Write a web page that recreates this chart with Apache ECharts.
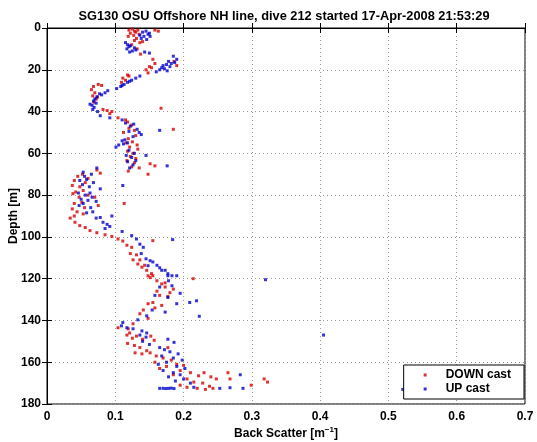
<!DOCTYPE html>
<html><head><meta charset="utf-8">
<script src="https://cdn.jsdelivr.net/npm/echarts@6/dist/echarts.min.js"></script>
<style>html,body{margin:0;padding:0;background:#fff}#c{width:537px;height:442px}</style>
</head><body><div id="c"></div>
<script>
const titleText = 'SG130 OSU Offshore NH line, dive 212 started 17-Apr-2008 21:53:29';
const xTicks = [0, 0.1, 0.2, 0.3, 0.4, 0.5, 0.6, 0.7];
const yTicks = [0, 20, 40, 60, 80, 100, 120, 140, 160, 180];
const seriesNames = ['DOWN cast', 'UP cast'];
// [backscatter, depth]
const downCast = [
[0.120,1],[0.125,0.5],[0.128,1.5],[0.122,2.5],[0.130,2],[0.133,1],[0.127,3.5],[0.119,4],[0.135,3],[0.158,1],[0.163,1.5],[0.131,5],
[0.128,6],[0.136,7],[0.124,8],[0.140,6.5],[0.132,10],[0.137,12.5],
[0.155,15],[0.186,16],[0.190,18],[0.150,18.5],[0.145,20],[0.153,19],[0.148,21.5],[0.158,17],
[0.118,22.5],[0.111,24],[0.115,25],[0.120,23],[0.109,26],
[0.075,27],[0.068,28],[0.080,27.5],[0.065,29.5],[0.070,31],[0.067,32.5],[0.072,34],[0.069,35.5],[0.074,33],
[0.082,39],[0.088,39.5],[0.095,40],[0.167,38.4],[0.092,41],
[0.104,43],[0.115,44],[0.118,45],[0.124,46.5],[0.120,48],[0.128,49],[0.112,50],[0.130,51.5],[0.119,53],[0.125,54.5],[0.132,56],[0.121,57],[0.185,48.5],[0.116,55],
[0.118,59],[0.126,60],[0.122,61.5],[0.130,62.5],[0.117,63.5],[0.128,64.5],[0.151,65],[0.158,66],[0.124,66.5],[0.135,67],[0.148,70],[0.119,68.5],[0.133,58],
[0.073,68],[0.078,69.5],[0.052,70],[0.045,71],[0.060,72],[0.040,73],[0.056,74],[0.037,75.4],[0.048,76],[0.053,77.8],[0.042,78.5],[0.038,79.3],[0.060,80],[0.047,81],[0.070,81],[0.051,83.5],[0.040,84],[0.113,84],[0.075,85],[0.037,86.6],[0.055,86],[0.044,88],[0.053,89],[0.040,90],
[0.034,91],[0.041,93],[0.048,94.6],[0.056,95.5],[0.063,97],[0.073,98],[0.085,99],[0.095,99.8],[0.104,101],
[0.111,102],[0.117,104],[0.124,105],[0.122,108],[0.131,108.6],[0.126,111],[0.133,113],[0.139,114.5],[0.143,113.6],[0.146,116],[0.155,101.8],[0.136,111],[0.153,117.6],[0.148,118.6],[0.155,118.6],[0.151,119.5],[0.161,121],[0.168,122.5],[0.173,124],[0.214,120],[0.173,122],[0.180,126.7],[0.165,128],[0.161,126],[0.155,131.4],[0.168,132.8],[0.148,132],[0.141,135],[0.136,136.8],[0.148,139],[0.126,141.6],[0.119,144],[0.104,143.5],[0.121,146],[0.185,125],[0.177,128.5],[0.158,134],
[0.117,147],[0.125,148.5],[0.131,147.5],[0.140,149],[0.152,147.5],[0.157,149.5],[0.118,151],[0.128,152],[0.136,153],[0.146,154.5],[0.151,155.5],[0.129,155.5],[0.139,156],[0.177,153],[0.160,157],[0.170,158],[0.182,159],[0.158,160],[0.190,161],[0.175,162],[0.200,161.5],[0.165,163],[0.195,164],[0.210,165],[0.185,166],[0.222,166.5],[0.230,165],[0.240,167],[0.205,168],[0.248,168],[0.265,165],[0.268,168],[0.318,168],[0.323,169.5],[0.299,171],[0.215,169.5],[0.228,170],[0.238,171.5],[0.205,172],[0.220,172.5],[0.243,172.5],[0.195,171],[0.232,173]
];
const upCast = [
[0.140,2],[0.145,1.5],[0.148,3],[0.142,4],[0.150,2.5],[0.138,5],[0.146,5.5],[0.151,4],[0.136,3.5],
[0.115,7],[0.118,8],[0.120,9],[0.122,8.5],[0.117,10],[0.125,11],[0.128,9.5],[0.121,11.5],[0.130,10.5],[0.143,11.5],[0.150,12],
[0.185,13.5],[0.190,15],[0.178,16],[0.182,17],[0.170,18],[0.175,17.5],[0.168,19],[0.165,20],[0.172,19.5],[0.160,21],[0.187,16.5],[0.180,18.5],[0.176,20.5],
[0.136,23],[0.130,24],[0.124,25],[0.118,26],[0.113,27],[0.108,28],[0.102,29],[0.121,25.5],[0.110,27.5],
[0.089,30],[0.085,31],[0.080,32],[0.073,33],[0.070,34],[0.068,35],[0.072,36],[0.066,37],[0.069,38],[0.067,39],[0.074,40],[0.077,31.5],[0.063,36.5],
[0.078,42],[0.092,43],[0.110,44],[0.115,45.5],[0.122,47],[0.127,46],[0.132,48.5],[0.120,49.5],[0.135,50],[0.138,51],[0.165,49],[0.126,52],[0.114,53.5],[0.110,54],[0.118,55],[0.105,56],[0.101,57],[0.112,55.5],
[0.120,58.5],[0.128,60],[0.116,61],[0.124,62],[0.130,63.5],[0.118,64],[0.126,65.5],[0.176,66],[0.121,67],[0.145,61],
[0.073,67],[0.053,69],[0.055,71],[0.065,70],[0.048,73],[0.058,72.5],[0.068,74],[0.111,75.4],[0.052,75],[0.062,76],[0.078,77],[0.046,79],[0.063,79],[0.056,80],[0.066,81],[0.050,82],[0.060,82.5],[0.053,84],[0.072,83],[0.047,85],[0.064,86],[0.067,88],[0.058,88.5],[0.078,90.7],[0.095,90],[0.072,91],[0.082,93],[0.088,94],[0.085,96],[0.092,95],[0.110,97.4],
[0.124,99.4],[0.131,101],[0.136,103.5],[0.141,105],[0.184,101.3],[0.138,108],[0.145,110.5],[0.151,111.4],[0.155,112],[0.161,113.6],[0.148,113.8],[0.165,114.8],[0.168,116],[0.173,116],[0.177,117.6],[0.177,118.6],[0.190,118.6],[0.183,118.6],[0.178,121],[0.183,123.4],[0.165,124],[0.195,127],[0.177,129],[0.158,128],[0.190,132],[0.209,131.4],[0.219,130.6],[0.223,138],[0.173,136],[0.154,135],[0.146,137.8],[0.133,139.7],[0.111,141],[0.109,142.6],[0.117,143.5],[0.126,144],[0.139,145],[0.146,146],[0.320,120.5],
[0.136,147],[0.145,148],[0.177,149],[0.186,150.5],[0.140,150],[0.150,151.5],[0.165,153],[0.172,154],[0.180,155],[0.192,156],[0.168,157],[0.185,158],[0.198,159],[0.175,160],[0.163,161],[0.190,162],[0.202,163],[0.170,164],[0.185,165],[0.195,166],[0.178,167],[0.283,166],[0.200,168],[0.188,169],[0.210,170],[0.165,172.5],[0.170,172.5],[0.174,172.6],[0.178,172.5],[0.182,172.4],[0.186,172.6],[0.215,172],[0.253,172.5],[0.268,172.2],[0.287,172.5],[0.521,173],[0.405,147]
];

const FONT = '"Liberation Sans", Arial, Helvetica, sans-serif';
const chart = echarts.init(document.getElementById('c'), null, {renderer: 'canvas'});
const lab = {fontFamily: FONT, fontWeight: 'bold', fontSize: 12, color: '#000'};
const gridLine = {show: true, lineStyle: {color: '#9a9a9a', type: [1, 3], width: 1}};
chart.setOption({
  animation: false,
  backgroundColor: '#fff',
  title: {text: titleText, left: 279, top: 5, textAlign: 'center',
    textStyle: {fontFamily: FONT, fontWeight: 'bold', fontSize: 12.8, color: '#000'}},
  grid: {left: 47, right: 12, top: 28, bottom: 38, show: true, borderColor: '#000', borderWidth: 1, backgroundColor: '#fff',
    containLabel: false, outerBoundsMode: 'none'},
  legend: {
    data: seriesNames, orient: 'vertical', right: 13, bottom: 43,
    itemWidth: 3, itemHeight: 3, itemGap: 2,
    padding: [4, 13, 4, 20],
    borderColor: '#000', borderWidth: 1, backgroundColor: '#fff',
    textStyle: Object.assign({}, lab, {padding: [0, 0, 0, 14]})
  },
  xAxis: [{
    type: 'value', min: 0, max: 0.7, interval: 0.1,
    name: '{n|Back Scatter [m}{s|−1}{n|]}', nameLocation: 'middle', nameGap: 22, nameMoveOverlap: false,
    nameTextStyle: {rich: {n: lab, s: Object.assign({}, lab, {fontSize: 8, verticalAlign: 'top', padding: [0, 0, 8, 0]})}},
    axisLine: {show: true, lineStyle: {color: '#000'}},
    axisTick: {show: true, inside: true, length: 5, lineStyle: {color: '#000'}},
    axisLabel: Object.assign({}, lab, {margin: 7, formatter: v => String(+v.toFixed(1))}),
    splitLine: gridLine
  }, {
    type: 'value', position: 'top', min: 0, max: 0.7, interval: 0.1,
    axisLine: {show: true, lineStyle: {color: '#000'}},
    axisTick: {show: true, inside: true, length: 5, lineStyle: {color: '#000'}},
    axisLabel: {show: false}, splitLine: {show: false}
  }],
  yAxis: [{
    type: 'value', inverse: true, min: 0, max: 180, interval: 20,
    name: 'Depth [m]', nameLocation: 'middle', nameGap: 27, nameMoveOverlap: false,
    nameTextStyle: lab,
    axisLine: {show: true, lineStyle: {color: '#000'}},
    axisTick: {show: true, inside: true, length: 5, lineStyle: {color: '#000'}},
    axisLabel: Object.assign({}, lab, {margin: 6}),
    splitLine: gridLine
  }, {
    type: 'value', inverse: true, position: 'right', min: 0, max: 180, interval: 20,
    axisLine: {show: true, lineStyle: {color: '#000'}},
    axisTick: {show: true, inside: true, length: 5, lineStyle: {color: '#000'}},
    axisLabel: {show: false}, splitLine: {show: false}
  }],
  series: [
    {name: seriesNames[0], type: 'scatter', data: downCast, symbol: 'rect', symbolSize: 3, itemStyle: {color: '#d40000'}},
    {name: seriesNames[1], type: 'scatter', data: upCast, symbol: 'rect', symbolSize: 3, itemStyle: {color: '#0000cc'}}
  ]
});
</script></body></html>
